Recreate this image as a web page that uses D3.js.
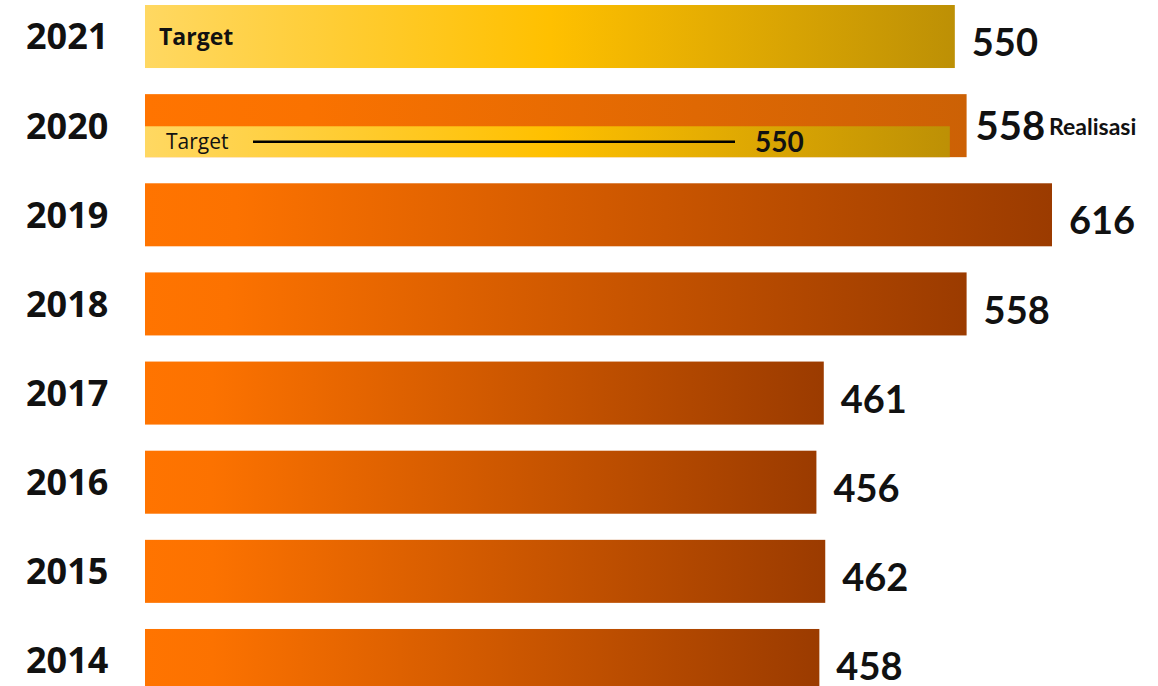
<!DOCTYPE html>
<html>
<head>
<meta charset="utf-8">
<script src="https://cdn.jsdelivr.net/npm/d3@7/dist/d3.min.js"></script>
<style>
  html, body { margin: 0; padding: 0; background: #ffffff; }
  svg { display: block; }
</style>
</head>
<body>
<svg id="chart" width="1158" height="686"></svg>
<script>
// Years shown top to bottom, with realised volume per year
const years = ["2021", "2020", "2019", "2018", "2017", "2016", "2015", "2014"];
const realisasi = [null, 558, 616, 558, 461, 456, 462, 458];
// Target values (2021 is target only; 2020 shows target against realisation)
const targetYears = ["2021", "2020"];
const targetValues = [550, 550];
const labelTarget = "Target";
const labelRealisasi = "Realisasi";

const svg = d3.select("#chart");

const x = d3.scaleLinear().domain([0, 616]).range([145, 1052]);
const y = d3.scaleBand().domain(years).range([5, 692]).paddingInner(0.293).paddingOuter(0);
const bw = y.bandwidth();

// Gradients
const defs = svg.append("defs");
function grad(id, stops) {
  const g = defs.append("linearGradient").attr("id", id)
    .attr("x1", "0%").attr("x2", "100%").attr("y1", "0%").attr("y2", "0%");
  stops.forEach(s => g.append("stop").attr("offset", s[0]).attr("stop-color", s[1]));
}
grad("gOrange", [["0%", "#ff7400"], ["10%", "#fc7200"], ["100%", "#9b3b00"]]);
grad("gOrange2020", [["0%", "#ff7400"], ["20%", "#fa7200"], ["100%", "#cc6105"]]);
grad("gYellow", [["0%", "#ffd862"], ["50%", "#ffc000"], ["100%", "#bd9005"]]);

const realData = years.map((yr, i) => ({ year: yr, value: realisasi[i] })).filter(d => d.value != null);
const targetData = targetYears.map((yr, i) => ({ year: yr, value: targetValues[i] }));

// Realisation bars
svg.append("g").selectAll("rect").data(realData).join("rect")
  .attr("x", x(0))
  .attr("y", d => y(d.year))
  .attr("width", d => x(d.value) - x(0))
  .attr("height", bw)
  .attr("fill", d => d.year === "2020" ? "url(#gOrange2020)" : "url(#gOrange)");

// Target bars: full height for 2021, lower half inside the 2020 bar
svg.append("g").selectAll("rect").data(targetData).join("rect")
  .attr("x", x(0))
  .attr("y", d => d.year === "2021" ? y(d.year) : y(d.year) + bw * 0.51)
  .attr("width", d => d.year === "2021" ? x(d.value) - x(0) : x(d.value) - x(0) - 5)
  .attr("height", d => d.year === "2021" ? bw : bw * 0.49)
  .attr("fill", "url(#gYellow)");

// Year labels
svg.append("g").selectAll("text").data(years).join("text")
  .attr("x", 26)
  .attr("y", d => y(d) + bw / 2)
  .attr("dy", "0.36em")
  .attr("font-family", "'Open Sans', sans-serif")
  .attr("font-weight", 700)
  .attr("font-size", 36)
  .attr("fill", "#111")
  .text(d => d);

// Value labels at bar ends
const endLabels = [
  ...targetData.filter(d => d.year === "2021"),
  ...realData
];
svg.append("g").selectAll("text").data(endLabels).join("text")
  .attr("x", d => x(d.value) + (d.year === "2020" ? 9 : 17))
  .attr("y", d => y(d.year) + bw / 2 + (d.year === "2020" ? 0 : 6))
  .attr("dy", "0.36em")
  .attr("font-family", "Lato, sans-serif")
  .attr("font-weight", 700)
  .attr("font-size", d => d.year === "2020" ? 40 : 38)
  .attr("fill", "#111")
  .text(d => d.value);

// "Realisasi" note next to the 2020 value
svg.append("text")
  .attr("x", 1049)
  .attr("y", y("2020") + 41)
  .attr("font-family", "Lato, sans-serif")
  .attr("font-weight", 700)
  .attr("font-size", 23)
  .attr("fill", "#111")
  .text(labelRealisasi);

// "Target" caption inside the 2021 bar
svg.append("text")
  .attr("x", 159)
  .attr("y", y("2021") + 40)
  .attr("font-family", "'Open Sans', sans-serif")
  .attr("font-weight", 700)
  .attr("font-size", 23)
  .attr("fill", "#111")
  .text(labelTarget);

// Target line with its value inside the 2020 target strip
const t2020 = targetData.find(d => d.year === "2020");
const yMid = y("2020") + bw * 0.51 + bw * 0.49 / 2;
svg.append("text")
  .attr("x", 166)
  .attr("y", yMid)
  .attr("dy", "0.36em")
  .attr("font-family", "'Open Sans', sans-serif")
  .attr("font-size", 21)
  .attr("fill", "#111")
  .text(labelTarget);
svg.append("line")
  .attr("x1", 253).attr("x2", 735)
  .attr("y1", yMid).attr("y2", yMid)
  .attr("stroke", "#000").attr("stroke-width", 2.5);
svg.append("text")
  .attr("x", 755)
  .attr("y", yMid)
  .attr("dy", "0.38em")
  .attr("font-family", "Lato, sans-serif")
  .attr("font-weight", 700)
  .attr("font-size", 28)
  .attr("fill", "#111")
  .text(t2020.value);
</script>
</body>
</html>
